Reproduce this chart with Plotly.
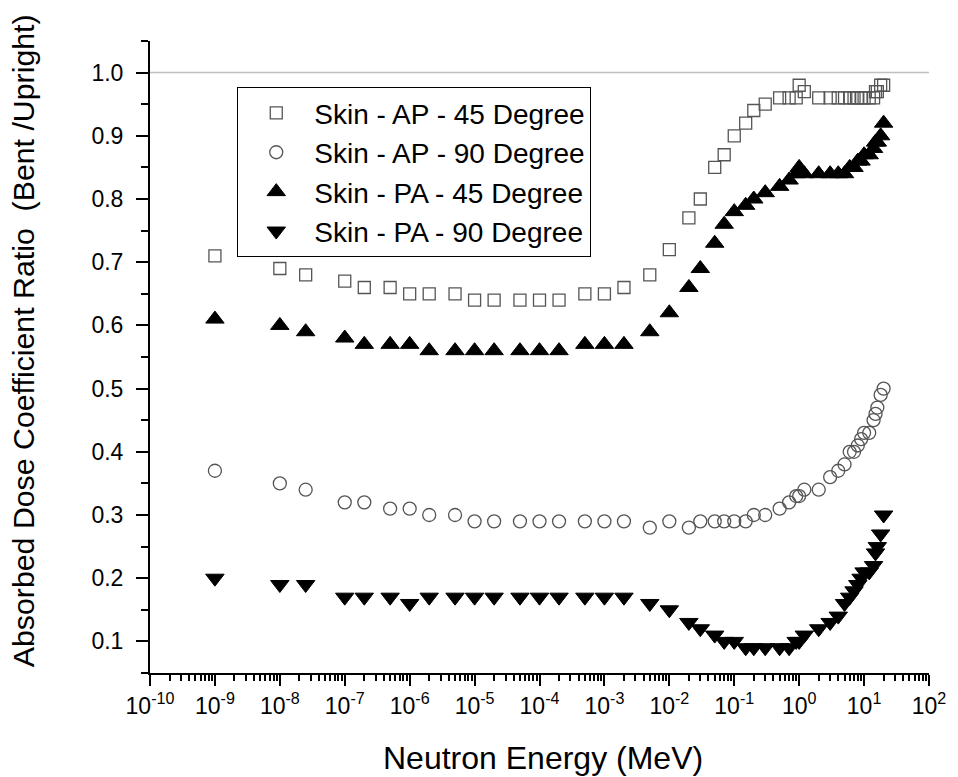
import numpy as np
import plotly.graph_objects as go

energy = [1e-9, 1e-8, 2.5e-8, 1e-7, 2e-7, 5e-7, 1e-6, 2e-6, 5e-6, 1e-5, 2e-5, 5e-5,
          1e-4, 2e-4, 5e-4, 1e-3, 2e-3, 5e-3, 1e-2, 2e-2, 3e-2, 5e-2, 7e-2, 0.1, 0.15,
          0.2, 0.3, 0.5, 0.7, 0.9, 1.0, 1.2, 2.0, 3.0, 4.0, 5.0, 6.0, 7.0, 8.0, 9.0,
          10.0, 12.0, 14.0, 15.0, 16.0, 18.0, 20.0]

ap45 = [0.71, 0.69, 0.68, 0.67, 0.66, 0.66, 0.65, 0.65, 0.65, 0.64, 0.64, 0.64, 0.64, 0.64,
        0.65, 0.65, 0.66,
        0.68, 0.72, 0.77, 0.80, 0.85, 0.87, 0.90, 0.92, 0.94, 0.95, 0.96, 0.96, 0.96,
        0.98, 0.97, 0.96, 0.96, 0.96, 0.96, 0.96, 0.96, 0.96, 0.96, 0.96, 0.96, 0.96,
        0.97, 0.97, 0.98, 0.98]

ap90 = [0.37, 0.35, 0.34, 0.32, 0.32, 0.31, 0.31, 0.30, 0.30, 0.29, 0.29, 0.29, 0.29, 0.29,
        0.29, 0.29, 0.29,
        0.28, 0.29, 0.28, 0.29, 0.29, 0.29, 0.29, 0.29, 0.30, 0.30, 0.31, 0.32, 0.33,
        0.33, 0.34, 0.34, 0.36, 0.37, 0.38, 0.40, 0.40, 0.41, 0.42, 0.43, 0.43, 0.45,
        0.46, 0.47, 0.49, 0.50]

pa45 = [0.61, 0.60, 0.59, 0.58, 0.57, 0.57, 0.57, 0.56, 0.56, 0.56, 0.56, 0.56, 0.56, 0.56,
        0.57, 0.57, 0.57,
        0.59, 0.62, 0.66, 0.69, 0.73, 0.76, 0.78, 0.79, 0.80, 0.81, 0.82, 0.83, 0.84,
        0.85, 0.84, 0.84, 0.84, 0.84, 0.84, 0.85, 0.85, 0.86, 0.86, 0.87, 0.87, 0.88,
        0.89, 0.89, 0.90, 0.92]

pa90 = [0.20, 0.19, 0.19, 0.17, 0.17, 0.17, 0.16, 0.17, 0.17, 0.17, 0.17, 0.17, 0.17, 0.17,
        0.17, 0.17, 0.17,
        0.16, 0.15, 0.13, 0.12, 0.11, 0.10, 0.10, 0.09, 0.09, 0.09, 0.09, 0.09, 0.10,
        0.10, 0.11, 0.12, 0.13, 0.14, 0.16, 0.17, 0.18, 0.19, 0.20, 0.21, 0.21, 0.22,
        0.24, 0.25, 0.27, 0.30]

series_names = ["Skin - AP - 45 Degree", "Skin - AP - 90 Degree",
                "Skin - PA - 45 Degree", "Skin - PA - 90 Degree"]

x_exponents = list(range(-10, 3))
x_tickvals = [10.0 ** e for e in x_exponents]
x_ticktext = ["10<sup>%d</sup>" % e for e in x_exponents]
x_minor = [m * 10.0 ** e for e in range(-10, 2) for m in range(2, 10)]

FONT = "Liberation Sans, Arial, sans-serif"

fig = go.Figure()
fig.add_trace(go.Scatter(x=energy, y=ap45, mode="markers", name=series_names[0],
                         marker=dict(symbol="square-open", size=12, color="#555555",
                                     line=dict(width=1.3, color="#555555"))))
fig.add_trace(go.Scatter(x=energy, y=ap90, mode="markers", name=series_names[1],
                         marker=dict(symbol="circle-open", size=13, color="#555555",
                                     line=dict(width=1.3, color="#555555"))))
fig.add_trace(go.Scatter(x=energy, y=pa45, mode="markers", name=series_names[2],
                         marker=dict(symbol="triangle-up", size=16, color="black",
                                     line=dict(width=1, color="black"))))
fig.add_trace(go.Scatter(x=energy, y=pa90, mode="markers", name=series_names[3],
                         marker=dict(symbol="triangle-down", size=16, color="black",
                                     line=dict(width=1, color="black"))))

fig.add_shape(type="line", xref="paper", yref="y", x0=0, x1=1, y0=1.0, y1=1.0,
              line=dict(color="#c0c0c0", width=1.5), layer="below")

fig.update_layout(
    width=950, height=769,
    margin=dict(l=141.5, r=27, t=33, b=104.4),
    paper_bgcolor="white", plot_bgcolor="white",
    font=dict(family=FONT, color="black"),
    showlegend=True,
    legend=dict(x=0.112, y=0.927, xanchor="left", yanchor="top",
                bordercolor="black", borderwidth=1, bgcolor="rgba(255,255,255,0)",
                font=dict(size=28, family=FONT), itemwidth=66, tracegroupgap=0),
    xaxis=dict(type="log", range=[-10, 2], showgrid=False, zeroline=False,
               showline=True, linecolor="black", linewidth=2,
               ticks="outside", ticklen=11, tickwidth=2, tickcolor="black",
               tickvals=x_tickvals, ticktext=x_ticktext,
               tickfont=dict(size=23, family=FONT),
               minor=dict(tickvals=x_minor, ticks="outside", ticklen=6, tickwidth=1.5,
                          tickcolor="black", showgrid=False)),
    yaxis=dict(range=[0.05, 1.05], showgrid=False, zeroline=False,
               showline=True, linecolor="black", linewidth=2,
               ticks="outside", ticklen=12, tickwidth=2, tickcolor="black",
               tick0=0, dtick=0.1, tickformat=".1f",
               tickfont=dict(size=23, family=FONT), ticklabelstandoff=8,
               minor=dict(dtick=0.05, ticks="outside", ticklen=7, tickwidth=2,
                          tickcolor="black", showgrid=False)),
    annotations=[
        dict(text="Absorbed Dose Coefficient Ratio  (Bent /Upright)", textangle=-90,
             xref="paper", yref="paper", x=-0.163, y=0.525, xanchor="center",
             yanchor="middle", showarrow=False, font=dict(size=30.3, family=FONT)),
        dict(text="Neutron Energy (MeV)", xref="paper", yref="paper",
             x=0.504, y=-0.134, xanchor="center", yanchor="middle", showarrow=False,
             font=dict(size=32, family=FONT)),
    ],
)

fig.write_html("out.html")
